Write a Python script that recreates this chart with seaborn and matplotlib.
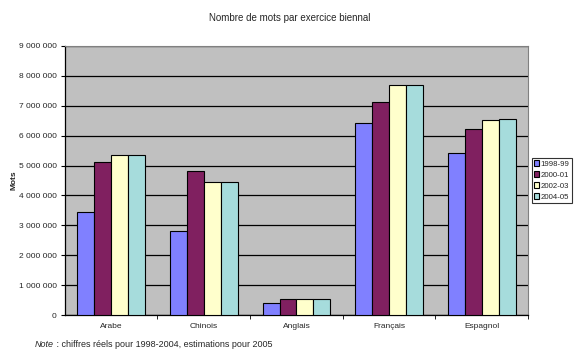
import pandas as pd
import matplotlib.pyplot as plt
import seaborn as sns
from matplotlib.ticker import FuncFormatter, FixedLocator

langues = ["Arabe", "Chinois", "Anglais", "Français", "Espagnol"]
periodes = ["1998-99", "2000-01", "2002-03", "2004-05"]
v_1998 = [3450000, 2800000, 420000, 6410000, 5410000]
v_2000 = [5110000, 4810000, 530000, 7110000, 6210000]
v_2002 = [5340000, 4440000, 530000, 7710000, 6510000]
v_2004 = [5340000, 4460000, 530000, 7710000, 6550000]
couleurs = ["#8080FF", "#802060", "#FFFFCC", "#A6DCDC"]

rows = []
for p, vals in zip(periodes, [v_1998, v_2000, v_2002, v_2004]):
    for l, v in zip(langues, vals):
        rows.append({"langue": l, "periode": p, "mots": v})
df = pd.DataFrame(rows)

sns.set_style("white")
plt.rcParams['font.family'] = ['Liberation Sans', 'DejaVu Sans']

fig = plt.figure(figsize=(5.79, 3.56), dpi=100)
ax = fig.add_axes([0.112, 0.115, 0.8, 0.756])
ax.set_facecolor("#C0C0C0")
sns.barplot(data=df, x="langue", y="mots", hue="periode", palette=couleurs,
            width=0.73, gap=0, edgecolor="black", linewidth=0.8,
            saturation=1, ax=ax, zorder=3)

ax.set_ylim(0, 9000000)
ax.set_yticks(range(0, 9000001, 1000000))
ax.yaxis.set_major_formatter(FuncFormatter(lambda v, p: f"{int(v):,}".replace(",", " ")))
ax.grid(axis="y", color="black", linewidth=0.9, zorder=0)
ax.set_axisbelow(True)
ax.set_xlim(-0.5, 4.5)
ax.xaxis.set_minor_locator(FixedLocator([0.5, 1.5, 2.5, 3.5, 4.5]))
ax.tick_params(axis="x", which="major", length=0, labelsize=6, pad=6)
ax.tick_params(axis="x", which="minor", length=3, direction="out", color="black", bottom=True)
ax.tick_params(axis="y", length=3, direction="out", color="black", left=True, labelsize=6, pad=3)
for s in ["left", "bottom"]:
    ax.spines[s].set_color("black")
    ax.spines[s].set_linewidth(0.9)
for s in ["top", "right"]:
    ax.spines[s].set_color("#808080")
    ax.spines[s].set_linewidth(0.8)

ax.set_xlabel("")
ax.set_ylabel("Mots", fontsize=6, labelpad=1, fontweight="bold")
fig.text(0.5, 0.949, "Nombre de mots par exercice biennal", ha="center", va="center", fontsize=7)
fig.text(0.06, 0.025, "Note", fontsize=6.5, style="italic")
fig.text(0.094, 0.025, " : chiffres réels pour 1998-2004, estimations pour 2005", fontsize=6.5)

leg = ax.legend(loc="center left", bbox_to_anchor=(0.918 / 0.8 - 0.112 / 0.8, 0.5),
                frameon=True, fontsize=5.6, handlelength=0.6, handleheight=0.7,
                handletextpad=0.2, borderpad=0.35, borderaxespad=0, labelspacing=0.45,
                fancybox=False, edgecolor="black")
leg.get_frame().set_linewidth(0.8)
leg.get_frame().set_facecolor("white")

fig.savefig("out.png", dpi=100, facecolor="white")
